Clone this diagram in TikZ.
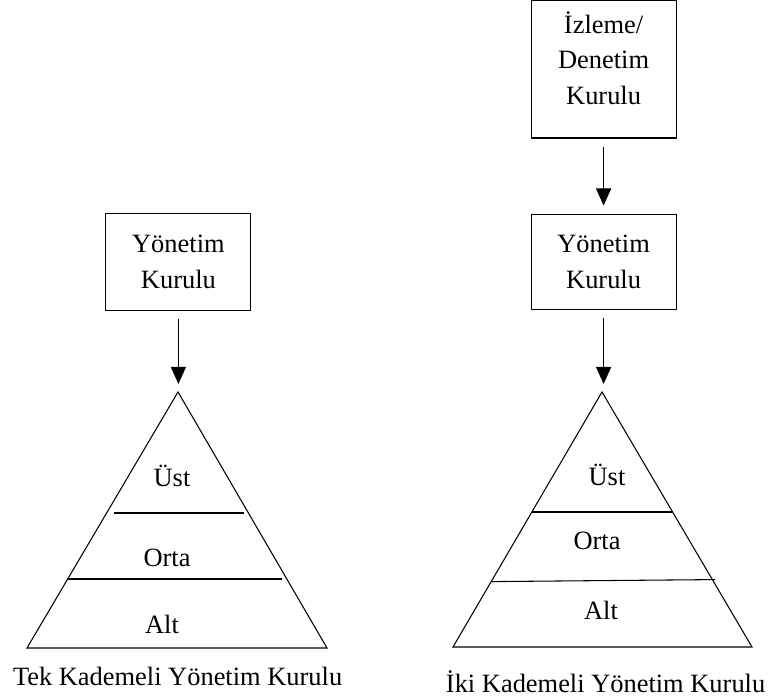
\documentclass[tikz,border=0pt]{standalone}
\usepackage{fontspec}
\setmainfont{Liberation Serif}
\usetikzlibrary{arrows.meta}

\begin{document}
\begin{tikzpicture}[line width=0.75pt,
  font=\fontsize{18.8}{25.5}\selectfont,
  kurul/.style={draw, minimum width=3.625cm, align=center, inner sep=0pt},
  ok/.style={-{Triangle[length=4.3mm, width=3.8mm]}, shorten <=2mm, shorten >=2mm}]
\useasboundingbox (0,0) rectangle (19.2,17.5);
% Tek kademeli: kurul ve piramit
\node[kurul, minimum height=2.425cm] (tekYK) at (4.46,10.95) {Yönetim\\Kurulu};
\coordinate (tekTepe) at (4.45,7.7);
\draw (tekTepe) -- (8.175,1.3) -- (0.675,1.3) -- cycle;
\draw (2.85,4.675) -- (6.1,4.675);
\draw (1.675,3.025) -- (7.05,3.025);
\node (tekUst) at (4.3,5.6) {Üst};
\node (tekOrta) at (4.175,3.55) {Orta};
\node (tekAlt) at (4.05,1.9) {Alt};
\draw[ok] (tekYK.south) -- (tekYK.south |- tekTepe);
\node (tekBaslik) at (4.44,0.6) {Tek Kademeli Yönetim Kurulu};
% Iki kademeli: denetim, yonetim ve piramit
\node[kurul, minimum height=3.45cm, text depth=0.55cm] (ikiDK) at (15.09,15.775) {İzleme/\\Denetim\\Kurulu};
\node[kurul, minimum height=2.375cm] (ikiYK) at (15.09,10.96) {Yönetim\\Kurulu};
\coordinate (ikiTepe) at (15.05,7.7);
\draw (ikiTepe) -- (18.8,1.325) -- (11.325,1.325) -- cycle;
\draw (13.3,4.7) -- (16.8,4.7);
\draw (12.3,2.96) -- (17.875,3.01);
\node (ikiUst) at (15.175,5.62) {Üst};
\node (ikiOrta) at (14.925,3.98) {Orta};
\node (ikiAlt) at (15.025,2.25) {Alt};
\draw[ok] (ikiDK.south) -- (ikiYK.north);
\draw[ok] (ikiYK.south) -- (ikiYK.south |- ikiTepe);
\node (ikiBaslik) at (15.14,0.45) {İki Kademeli Yönetim Kurulu};
\end{tikzpicture}
\end{document}
